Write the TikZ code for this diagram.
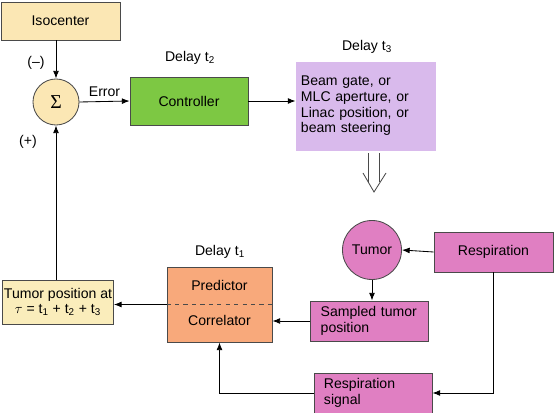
\documentclass[tikz,border=0pt]{standalone}
\usepackage{fontspec}
\setmainfont{Liberation Sans}
\newfontfamily\symfont{Liberation Serif}
\usetikzlibrary{arrows.meta}
\definecolor{isofill}{HTML}{FBE7B4}
\definecolor{posfill}{HTML}{FAEDBB}
\definecolor{ctrlfill}{HTML}{7DC843}
\definecolor{beamfill}{HTML}{D9BAEC}
\definecolor{predfill}{HTML}{F8A97B}
\definecolor{tumfill}{HTML}{E07FC2}
\definecolor{edge}{HTML}{4A4A4A}
\begin{document}
\begin{tikzpicture}[x=0.025cm, y=-0.025cm,
  font=\fontsize{10pt}{11.2pt}\selectfont,
  box/.style={draw=edge, rectangle, align=center},
  textbox/.style={draw=edge, rectangle, align=left, text width=2.45cm, inner xsep=0.25cm, minimum height=1cm},
  >={Latex[length=5.5pt,width=4.2pt]}, line width=0.6pt]
\useasboundingbox (0,0) rectangle (555,413);
\node[box, fill=isofill, minimum width=2.975cm, minimum height=0.95cm] (iso) at (60.5,21) {Isocenter};
\node[draw=edge, circle, fill=isofill, minimum size=1.15cm, inner sep=0pt] (sum) at (56,102) {\symfont\fontsize{14pt}{14pt}\selectfont Σ};
\node[box, fill=ctrlfill, minimum width=2.95cm, minimum height=1.2cm] (ctrl) at (189,101) {Controller};
\node[draw=beamfill, rectangle, fill=beamfill, align=left, text width=3.225cm, inner xsep=0.125cm, minimum height=2.2cm] (beam) at (365.5,106) {Beam gate, or\\MLC aperture, or\\Linac position, or\\beam steering};
\node (d2) at (190,58) {Delay t\textsubscript{2}};
\node (d3) at (367,47) {Delay t\textsubscript{3}};
\node (minus) at (36,63) {(–)};
\node (plus) at (28,142) {(+)};
\node[draw=edge, circle, fill=tumfill, minimum size=1.475cm, inner sep=0pt] (tumor) at (372,250) {Tumor};
\node[box, fill=tumfill, minimum width=2.975cm, minimum height=1cm] (resp) at (493.5,252) {Respiration};
\node[textbox, fill=tumfill] (samp) at (369.7,321) {Sampled tumor\\position};
\node[textbox, fill=tumfill] (sig) at (373,393) {Respiration\\signal};
\node[box, fill=predfill, minimum width=2.625cm, minimum height=1.875cm] (pc) at (219.5,304.5) {};
\node (pred) at (219.5,285) {Predictor};
\node (corr) at (219.5,320) {Correlator};
\node (d1) at (220,252) {Delay t\textsubscript{1}};
\node[box, fill=posfill, minimum width=2.75cm, minimum height=1.1cm, inner sep=1pt] (tpos) at (58,302) {Tumor position at\\$\tau$ = t\textsubscript{1} + t\textsubscript{2} + t\textsubscript{3}};
\coordinate (dbl) at (374,192);
\draw[edge, dashed] (pc.west) -- (pc.east);
\draw[->] (iso.south -| sum.north) -- (sum.north);
\draw[->] (sum.east) -- node[above] {Error} (ctrl.west);
\draw[->] (ctrl.east) -- (ctrl.east -| beam.west);
\draw[->] (sum.south |- tpos.north) -- (sum.south);
\draw[->] (pc.west) -- (pc.west -| tpos.east);
\draw[->] (resp.west) -- (tumor.east);
\draw[->] (tumor.south) -- (tumor.south |- samp.north);
\draw[->] (samp.west) -- (samp.west -| pc.east);
\draw[->] (resp.south) |- (sig.east);
\draw[->] (sig.west) -| (pc.south);
% hollow double arrow towards the tumor
\draw[edge] (beam.south -| dbl) ++(-5.5,3) -- ++(0,29);
\draw[edge] (beam.south -| dbl) ++(5.5,3) -- ++(0,29);
\draw[edge] (dbl) ++(-11,-19) -- (dbl) -- ++(12,-19);
\end{tikzpicture}
\end{document}
